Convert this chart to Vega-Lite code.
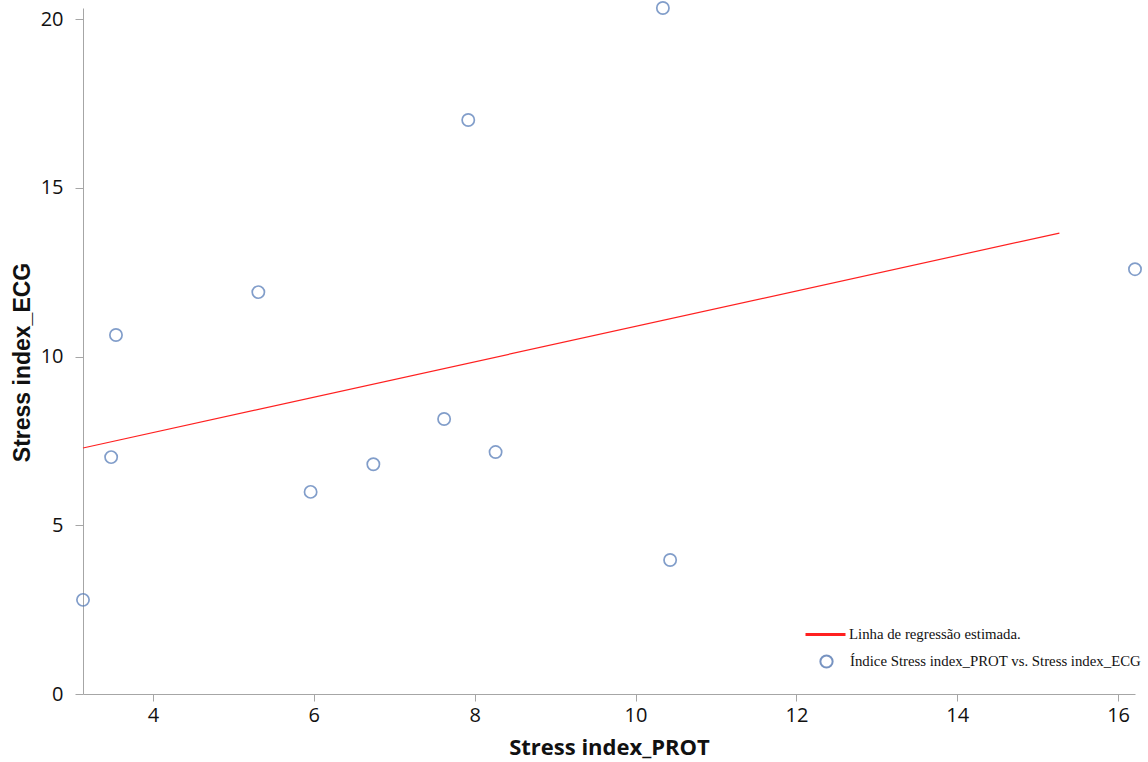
{
  "$schema": "https://vega.github.io/schema/vega-lite/v6.json",
  "width": 1052,
  "height": 686,
  "autosize": {"type": "none"},
  "padding": {"left": 83, "top": 8, "right": 13, "bottom": 68},
  "background": "white",
  "config": {
    "view": {"stroke": null},
    "axis": {
      "grid": false,
      "domainColor": "#a6a6a6",
      "tickColor": "#a6a6a6",
      "tickSize": 7,
      "labelFont": "Open Sans",
      "labelFontSize": 20,
      "labelColor": "#111111",
      "titleFontWeight": "bold",
      "titleColor": "#111111"
    }
  },
  "datasets": {
    "pts": [
      {"prot": 3.13, "ecg": 2.79, "serie": "Índice Stress index_PROT vs. Stress index_ECG"},
      {"prot": 3.48, "ecg": 7.02, "serie": "Índice Stress index_PROT vs. Stress index_ECG"},
      {"prot": 3.54, "ecg": 10.64, "serie": "Índice Stress index_PROT vs. Stress index_ECG"},
      {"prot": 5.31, "ecg": 11.91, "serie": "Índice Stress index_PROT vs. Stress index_ECG"},
      {"prot": 5.96, "ecg": 5.99, "serie": "Índice Stress index_PROT vs. Stress index_ECG"},
      {"prot": 6.74, "ecg": 6.81, "serie": "Índice Stress index_PROT vs. Stress index_ECG"},
      {"prot": 7.62, "ecg": 8.15, "serie": "Índice Stress index_PROT vs. Stress index_ECG"},
      {"prot": 7.92, "ecg": 17.01, "serie": "Índice Stress index_PROT vs. Stress index_ECG"},
      {"prot": 8.26, "ecg": 7.17, "serie": "Índice Stress index_PROT vs. Stress index_ECG"},
      {"prot": 10.34, "ecg": 20.33, "serie": "Índice Stress index_PROT vs. Stress index_ECG"},
      {"prot": 10.43, "ecg": 3.97, "serie": "Índice Stress index_PROT vs. Stress index_ECG"},
      {"prot": 16.21, "ecg": 12.59, "serie": "Índice Stress index_PROT vs. Stress index_ECG"}
    ],
    "reg": [
      {"prot": 3.13, "ecg": 7.29, "serie": "Linha de regressão estimada."},
      {"prot": 15.27, "ecg": 13.66, "serie": "Linha de regressão estimada."}
    ]
  },
  "layer": [
    {
      "data": {"name": "reg"},
      "mark": {"type": "line", "strokeWidth": 1.2, "clip": false},
      "encoding": {
        "x": {"field": "prot", "type": "quantitative", "scale": {"domain": [3.13, 16.21], "nice": false, "zero": false},
              "axis": {"title": "Stress index_PROT", "values": [4, 6, 8, 10, 12, 14, 16], "format": "d", "labelPadding": 4,
                       "titleFont": "Open Sans", "titleFontSize": 22, "titlePadding": 12}},
        "y": {"field": "ecg", "type": "quantitative", "scale": {"domain": [0, 20.33], "nice": false},
              "axis": {"title": "Stress index_ECG", "values": [0, 5, 10, 15, 20], "format": "d", "labelPadding": 12, "tickSize": 8,
                       "titleFont": "Liberation Sans", "titleFontSize": 23, "titlePadding": 6, "titleY": 354}},
        "stroke": {"field": "serie", "type": "nominal",
                   "scale": {"domain": ["Linha de regressão estimada."], "range": ["#ff2020"]},
                   "legend": {"orient": "none", "legendX": 721, "legendY": 605, "title": null, "symbolType": "stroke",
                              "symbolSize": 1600, "symbolStrokeWidth": 3, "labelFont": "Liberation Serif", "labelFontSize": 14.8,
                              "labelColor": "#111111", "labelOffset": 2, "labelLimit": 500, "padding": 0}}
      }
    },
    {
      "data": {"name": "pts"},
      "mark": {"type": "point", "shape": "circle", "filled": false, "size": 150, "strokeWidth": 1.7, "color": "#4d75b4", "clip": false},
      "encoding": {
        "x": {"field": "prot", "type": "quantitative"},
        "y": {"field": "ecg", "type": "quantitative"},
        "shape": {"field": "serie", "type": "nominal",
                  "scale": {"domain": ["Índice Stress index_PROT vs. Stress index_ECG"], "range": ["circle"]},
                  "legend": {"orient": "none", "legendX": 736, "legendY": 646, "title": null,
                             "symbolSize": 150, "symbolStrokeWidth": 2, "symbolStrokeColor": "#3e66a8", "symbolFillColor": "transparent",
                             "labelFont": "Liberation Serif", "labelFontSize": 14.8, "labelColor": "#111111", "labelOffset": 16, "labelLimit": 500, "padding": 0}}
      }
    }
  ]
}
